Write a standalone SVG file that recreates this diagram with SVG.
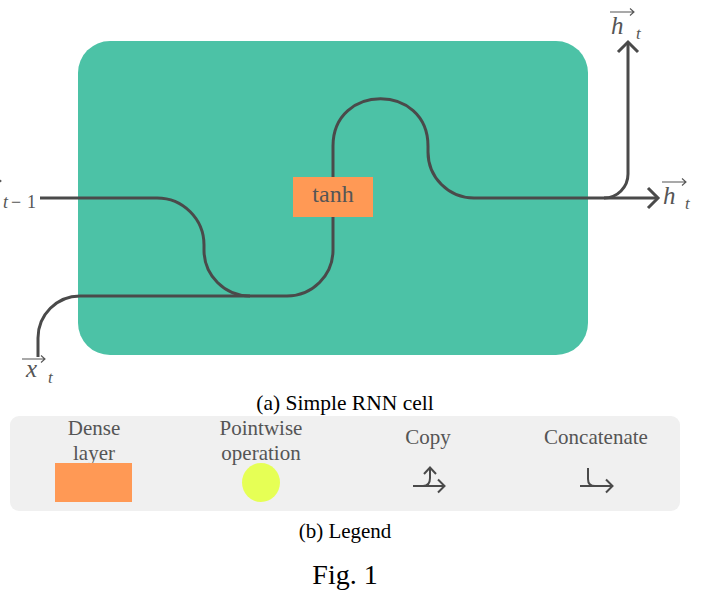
<svg xmlns="http://www.w3.org/2000/svg" width="710" height="590" viewBox="0 0 710 590">
<style>
.ln{fill:none;stroke:#4a4a4a;stroke-width:3;stroke-linejoin:miter}
.lg{fill:none;stroke:#4a4a4a;stroke-width:2}
.acc{fill:none;stroke:#555;stroke-width:1.1}
.t{font-family:"Liberation Serif","Times New Roman",serif;fill:#555}
.m{font-family:"Liberation Serif","Times New Roman",serif;font-style:italic;fill:#555}
.cap{font-family:"Liberation Serif","Times New Roman",serif;fill:#000;text-anchor:middle}
.c{text-anchor:middle}
</style>
<rect width="710" height="590" fill="#fff"/>
<g id="cell"><rect x="78" y="41" width="510" height="314" rx="32" fill="#4cc2a6"/></g>
<g id="connectors">
<path class="ln" d="M40,198 H157 A47,47 0 0 1 204,245 V250 A46,46 0 0 0 250,296"/>
<path class="ln" d="M38,357 V338 A42,42 0 0 1 80,296 H287 A46,46 0 0 0 333,250 V146 C333,83 428,83 428,146 V152 A46,46 0 0 0 474,198 H657"/>
<path class="ln" d="M604,198 A24,24 0 0 0 628,174 V42"/>
<path class="ln" d="M618,52 L628,42 L638,52"/>
<path class="ln" d="M648,188 L658,198 L648,208"/>
</g>
<g id="tanh">
<rect x="293" y="177" width="80" height="40" fill="#ff9955"/>
<text class="t c" x="333" y="202" font-size="24">tanh</text>
</g>
<g id="label-h-prev">
<path class="acc" d="M-22,181 H1 M-3,178 L1,181 L-3,184"/>
<text class="m" x="3" y="208" font-size="18">t</text>
<text class="t" x="11" y="208" font-size="18">−</text>
<text class="t" x="27" y="208" font-size="18">1</text>
</g>
<g id="label-x">
<path class="acc" d="M22,359 H45 M41,355.5 L45,359 L41,362.5"/>
<text class="m" x="26" y="377" font-size="25">x</text>
<text class="m" x="48" y="383" font-size="17">t</text>
</g>
<g id="label-h-up">
<path class="acc" d="M610,12 H634 M630,8.5 L634,12 L630,15.5"/>
<text class="m" x="611" y="34" font-size="25">h</text>
<text class="m" x="636" y="39" font-size="17">t</text>
</g>
<g id="label-h-right">
<path class="acc" d="M662,182 H686 M682,178.5 L686,182 L682,185.5"/>
<text class="m" x="663" y="204" font-size="25">h</text>
<text class="m" x="685" y="209" font-size="17">t</text>
</g>
<text class="cap" x="345" y="410" font-size="21.5">(a) Simple RNN cell</text>
<g id="legend">
<rect x="10" y="416" width="670" height="95" rx="9" fill="#f0f0f0"/>
<g id="legend-dense">
<text class="t c" x="94" y="435" font-size="21">Dense</text>
<text class="t c" x="94" y="460" font-size="21">layer</text>
<rect x="55" y="463" width="77" height="39" fill="#ff9955"/>
</g>
<g id="legend-pointwise">
<text class="t c" x="261" y="435" font-size="21">Pointwise</text>
<text class="t c" x="261" y="460" font-size="21">operation</text>
<ellipse cx="261" cy="482.5" rx="19" ry="19.5" fill="#e6ff55"/>
</g>
<g id="legend-copy">
<text class="t c" x="428" y="444" font-size="21">Copy</text>
<path class="lg" d="M413,486 H444 M438,479.5 L444.5,486 L438,492.5"/>
<path class="lg" d="M423,486 C428,486 430,483 430,478 V468 M424,474 L430,467.5 L436,474"/>
</g>
<g id="legend-concat">
<text class="t c" x="596" y="444" font-size="21">Concatenate</text>
<path class="lg" d="M588,468 V479 C588,484 590,486 595,486"/>
<path class="lg" d="M580,486 H612 M606,479.5 L612.5,486 L606,492.5"/>
</g>
</g>
<text class="cap" x="345" y="538" font-size="21">(b) Legend</text>
<text class="cap" x="345" y="584" font-size="28">Fig. 1</text>
</svg>
